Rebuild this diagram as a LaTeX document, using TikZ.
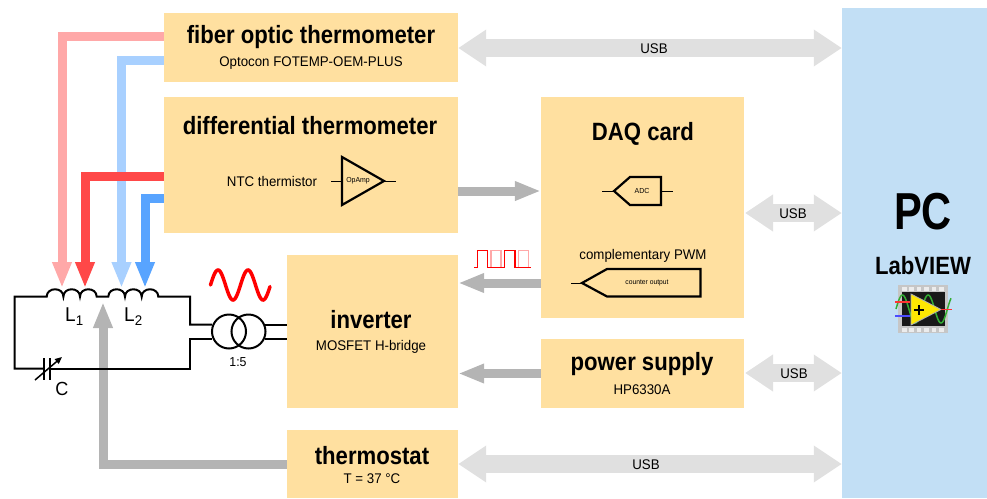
\documentclass[tikz,border=0pt]{standalone}
\usepackage{fontspec}
\setmainfont{Liberation Sans}[FakeStretch=0.95]
\newfontfamily\headfont{Liberation Sans}[FakeStretch=0.885]
\newfontfamily\pcfont{Liberation Sans}[FakeStretch=0.8]
\usetikzlibrary{arrows.meta,calc}
\definecolor{boxc}{HTML}{FFE0A0}
\definecolor{pcc}{HTML}{C2DFF5}
\definecolor{pinkc}{HTML}{FFA8A8}
\definecolor{redc}{HTML}{FF4848}
\definecolor{lbluec}{HTML}{A8D0FF}
\definecolor{bluec}{HTML}{58A4FF}
\definecolor{grayc}{HTML}{B4B4B4}
\definecolor{usbc}{HTML}{E0E0E0}
\tikzset{
  block/.style={fill=boxc,draw=none,inner sep=0pt},
  bigt/.style={font=\headfont\fontsize{25}{25}\selectfont\bfseries,inner sep=0pt},
  subt/.style={font=\fontsize{14}{14}\selectfont,inner sep=0pt},
  tiny/.style={font=\fontsize{7.3}{8}\selectfont,inner sep=0pt},
  sigarrow/.style={line width=9pt,-{Triangle[length=26pt,width=18pt]}},
  usbarrow/.style={line width=18pt,usbc,{Triangle[length=28pt,width=35pt]}-{Triangle[length=28pt,width=35pt]}},
  wire/.style={line width=2pt,line join=miter},
  thick wire/.style={line width=2.2pt,line join=miter},
  thin wire/.style={line width=1pt}
}
\begin{document}
\begin{tikzpicture}[x=1pt,y=-1pt]
\useasboundingbox (0,0) rectangle (987,498);
% blocks
\node[fill=pcc,inner sep=0pt,minimum width=145pt,minimum height=490pt] (pc) at (914.5,253) {};
\node[block,minimum width=294pt,minimum height=69pt] (fiber) at (311,47.5) {};
\node[block,minimum width=294pt,minimum height=136pt] (diff) at (311,165) {};
\node[block,minimum width=203pt,minimum height=221pt] (daq) at (642.5,207.5) {};
\node[block,minimum width=171pt,minimum height=153pt] (inv) at (372.5,331.5) {};
\node[block,minimum width=203pt,minimum height=69pt] (psu) at (642.5,373.5) {};
\node[block,minimum width=171pt,minimum height=68pt] (thermo) at (372.5,464) {};
% texts
\node[bigt] (t1) at (311,37) {fiber optic thermometer};
\node[subt] (t2) at (311,63.5) {Optocon FOTEMP-OEM-PLUS};
\node[bigt] (t3) at (310,126) {differential thermometer};
\node[subt] (t4) at (272,181) {NTC thermistor};
\node[bigt] (t5) at (643,134) {DAQ card};
\node[subt] (t6) at (643,256) {complementary PWM};
\node[bigt] (t7) at (371,320) {inverter};
\node[subt] (t8) at (371,347) {MOSFET H-bridge};
\node[bigt] (t9) at (642,364.5) {power supply};
\node[subt] (t10) at (642,389.5) {HP6330A};
\node[bigt] (t11) at (372,456) {thermostat};
\node[subt] (t12) at (372,479) {T = 37 °C};
\node[font=\pcfont\fontsize{52}{52}\selectfont\bfseries,inner sep=0pt] (t13) at (923,212) {PC};
\node[bigt] (t14) at (923,266) {LabVIEW};
% opamp
\coordinate (oa1) at (342,157); \coordinate (oa2) at (342,205); \coordinate (oa3) at (384,181);
\coordinate (oain) at (331,181); \coordinate (oaout) at (396,181);
\draw[thick wire] (oa1) -- (oa3) -- (oa2) -- cycle;
\draw[thin wire] (oain) -- (342,181) (oa3) -- (oaout);
\node[tiny] (oal) at (358,181) {OpAmp};
% ADC
\draw[thick wire] (614,191) -- (630,177) -- (661,177) -- (661,205) -- (630,205) -- cycle;
\draw[thin wire] (602,191) -- (614,191) (661,191) -- (673,191);
\node[tiny] (adcl) at (642,191) {ADC};
% counter output
\draw[thick wire] (582,283) -- (607,269) -- (700.5,269) -- (700.5,296.5) -- (607,296.5) -- cycle;
\draw[thin wire] (571,283) -- (582,283);
\node[font=\fontsize{7.1}{8}\selectfont,inner sep=0pt] (cntl) at (647,283) {counter output};
% signal arrows
\coordinate (tipA) at (62,288); \coordinate (tipB) at (85,288);
\coordinate (tipC) at (121.5,288); \coordinate (tipD) at (145,288);
\coordinate (tipT) at (103,302);
\draw[sigarrow,pinkc] ([yshift=11.5pt]fiber.west) -| (tipA);
\draw[sigarrow,lbluec] ([yshift=-12.5pt]fiber.west) -| (tipC);
\draw[sigarrow,redc] ([yshift=-11pt]diff.west) -| (tipB);
\draw[sigarrow,bluec] ([yshift=-33pt]diff.west) -| (tipD);
\draw[sigarrow,grayc] (thermo.west) -| (tipT);
\draw[sigarrow,grayc] ([yshift=-26pt]diff.east) -- ([yshift=16.5pt]daq.west);
\draw[sigarrow,grayc] ([yshift=-75.5pt]daq.west) -- ([yshift=48.5pt]inv.east);
\draw[sigarrow,grayc] (psu.west) -- (psu.west -| inv.east);
% USB arrows
\draw[usbarrow] ([yshift=-0.5pt]fiber.east) -- ([yshift=-0.5pt]fiber.east -| pc.west);
\coordinate (usb2) at (745,213);
\draw[usbarrow] (usb2) -- (usb2 -| pc.west);
\coordinate (usb3) at (745,373);
\draw[usbarrow] (usb3) -- (usb3 -| pc.west);
\draw[usbarrow] (thermo.east) -- (thermo.east -| pc.west);
\node[subt] (u1) at (654,48.5) {USB};
\node[subt] (u2) at (793,213.5) {USB};
\node[subt] (u3) at (794,373.5) {USB};
\node[subt] (u4) at (646,464.5) {USB};
% circuit
\coordinate (c1) at (44,368.7); \coordinate (c2) at (50,368.7);
\draw[wire] (c1) -- (14.5,368.7) -- (14.5,296.7) -- (46.7,296.7)
  .. controls (46.7,286.8) and (63.4,286.8) .. (63.4,296.7)
  .. controls (63.4,286.8) and (80,286.8) .. (80,296.7)
  .. controls (80,286.8) and (96.7,286.8) .. (96.7,296.7)
  -- (108.3,296.7)
  .. controls (108.3,286.8) and (125,286.8) .. (125,296.7)
  .. controls (125,286.8) and (141.7,286.8) .. (141.7,296.7)
  .. controls (141.7,286.8) and (158.3,286.8) .. (158.3,296.7)
  -- (190,296.7) -- (190,324.5) -- (212,324.5);
\draw[wire] (c2) -- (190,368.7) -- (190,338.7) -- (212,338.7);
\node[circle,draw,line width=2pt,minimum size=34pt,inner sep=0pt] (tr1) at (229,331.5) {};
\node[circle,draw,line width=2pt,minimum size=34pt,inner sep=0pt] (tr2) at (248.5,331.5) {};
\draw[wire] (265,324.5) -- (inv.west |- 0,324.5);
\draw[wire] (265,338.7) -- (inv.west |- 0,338.7);
\draw[line width=2.2pt] (44,358) -- (44,379.5) (50,358) -- (50,379.5);
\draw[line width=1.5pt,-{Triangle[length=7pt,width=6pt]}] (35,380) -- (62,357);
\node[font=\fontsize{20}{20}\selectfont,inner sep=0pt,anchor=base west] (l1) at (65,321) {L\raisebox{-4pt}{\fontsize{14}{14}\selectfont 1}};
\node[font=\fontsize{20}{20}\selectfont,inner sep=0pt,anchor=base west] (l2) at (124,321) {L\raisebox{-4pt}{\fontsize{14}{14}\selectfont 2}};
\node[font=\fontsize{19}{19}\selectfont,inner sep=0pt] (cl) at (62,389) {C};
\node[font=\fontsize{13}{13}\selectfont,inner sep=0pt] (ratio) at (238,362) {1:5};
% sine
\draw[red,line width=3.5pt,line cap=round,domain=210.5:270,samples=80,smooth] plot (\x,{285-15*sin((\x-210.5)*12)});
% PWM
\draw[pinkc,line width=1.4pt] (491,267.7) -- (491,250.3) -- (501,250.3) -- (501,267.7)
  (518.5,267.7) -- (518.5,250.3) -- (528.5,250.3) -- (528.5,267.7);
\draw[red,line width=1.4pt] (474,267.7) -- (477.7,267.7) -- (477.7,250.3) -- (487.7,250.3) -- (487.7,267.7) -- (504.7,267.7) -- (504.7,250.3) -- (515,250.3) -- (515,267.7) -- (531,267.7);
% LabVIEW icon
\fill[gray!45] (898,285) rectangle (948,333);
\foreach \i in {0,...,5}{
  \fill[gray!15] (902+\i*7.4,287) rectangle +(4.5,3.5);
  \fill[gray!15] (902+\i*7.4,328) rectangle +(4.5,3.5);
}
\fill[black!90] (902,292) rectangle (945,326);
\draw[green!60!black!80!white,line width=1.5pt,domain=896:951,samples=80,smooth] plot (\x,{309-14*sin((\x-896)*14)});
\fill[yellow!90!orange,draw=white!70!black,line width=.8pt] (911,294) -- (941,309.5) -- (911,325) -- cycle;
\draw[line width=1.6pt] (914,310) -- (924,310) (919,305) -- (919,315);
\draw[red!80!white,line width=1.6pt] (895,302) -- (910,302) (941,309.5) -- (952,309.5);
\draw[blue!70!white,line width=1.6pt] (895,316) -- (910,316);
\end{tikzpicture}
\end{document}
